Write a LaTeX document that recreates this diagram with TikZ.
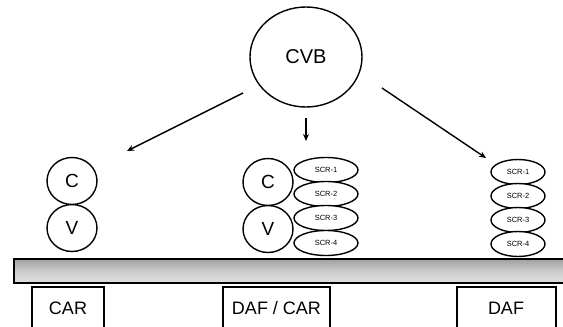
\documentclass[tikz,border=0pt]{standalone}
\usepackage{fontspec}
\setmainfont{Liberation Sans}
\usetikzlibrary{shapes.geometric,arrows.meta}
\begin{document}
\begin{tikzpicture}[x=1pt,y=-1pt,
  big/.style={draw,line width=1.4pt,ellipse,minimum width=112pt,minimum height=100pt,inner sep=0pt,font=\fontsize{20}{20}\selectfont},
  small/.style={draw,line width=1.4pt,ellipse,minimum width=50pt,minimum height=47pt,inner sep=0pt,font=\fontsize{19}{19}\selectfont},
  scr/.style={draw,line width=1.4pt,ellipse,minimum width=64pt,minimum height=25pt,inner sep=0pt,fill=white,font=\fontsize{7.5}{7.5}\selectfont},
  scrr/.style={scr,minimum width=54pt},
  lbl/.style={font=\fontsize{18}{18}\selectfont},
  boxline/.style={line width=1.2pt},
  arr/.style={line width=1.4pt,-{Stealth[length=7pt,width=6pt]}}]
\useasboundingbox (0,0) rectangle (563,327);
\clip (0,0) rectangle (563,327);
\node[big] (cvb) at (306,57) {CVB};
\coordinate (ls) at (243,93);
\coordinate (la) at (127,151);
\coordinate (ms) at (306,118);
\coordinate (ma) at (306,141);
\coordinate (rs) at (382,88);
\coordinate (ra) at (486,158);
\draw[arr] (ls) -- (la);
\draw[arr] (ms) -- (ma);
\draw[arr] (rs) -- (ra);
% CAR
\node[small] (c1) at (72,181) {C};
\node[small] (v1) at (72,228) {V};
% DAF/CAR
\node[small] (c2) at (268,182) {C};
\node[small] (v2) at (268,229) {V};
\node[scr] (a1) at (326,170) {SCR-1};
\node[scr] (a2) at (326,194) {SCR-2};
\node[scr] (a3) at (326,218) {SCR-3};
\node[scr] (a4) at (326,243) {SCR-4};
% DAF
\node[scrr] (b1) at (518,172) {SCR-1};
\node[scrr] (b2) at (518,196) {SCR-2};
\node[scrr] (b3) at (518,220) {SCR-3};
\node[scrr] (b4) at (518,244) {SCR-4};
% bar
\draw[line width=1.4pt,top color=gray!75,bottom color=gray!25,middle color=gray!40] (14,259) rectangle (575,283);
% labels
\draw[boxline] (32,340) -- (32,287) -- (104,287) -- (104,340);
\node[lbl] (t1) at (68,308) {CAR};
\draw[boxline] (223,340) -- (223,287) -- (330,287) -- (330,340);
\node[lbl] (t2) at (276.5,308) {DAF / CAR};
\draw[boxline] (457,340) -- (457,287) -- (556,287) -- (556,340);
\node[lbl] (t3) at (506,308) {DAF};
\end{tikzpicture}
\end{document}
